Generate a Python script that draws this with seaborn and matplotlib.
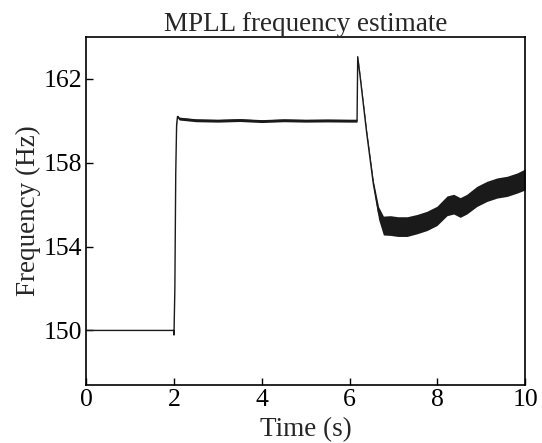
import matplotlib
matplotlib.use("Agg")
import matplotlib.pyplot as plt
import seaborn as sns
import numpy as np
import pandas as pd

# Data
time_s = [0.0, 1.99, 2.0, 2.02, 2.04, 2.06, 2.08, 2.12, 2.5, 3.0, 3.5, 4.0, 4.5,
          5.0, 5.5, 6.0, 6.17, 6.185, 6.24, 6.39, 6.54, 6.66, 6.77, 6.93, 7.1,
          7.31, 7.54, 7.76, 7.99, 8.22, 8.37, 8.52, 8.67, 8.9, 9.13, 9.36, 9.59,
          9.82, 10.0]
freq_center = [150.0, 150.0, 149.78, 152.0, 157.5, 159.8, 160.2, 160.1, 160.02,
               160.0, 160.03, 159.98, 160.02, 160.0, 160.01, 160.0, 160.0, 163.05,
               162.1, 159.4, 157.0, 155.6, 155.0, 155.0, 154.95, 154.95, 155.07,
               155.22, 155.46, 155.94, 156.02, 155.86, 156.02, 156.39, 156.63,
               156.79, 156.87, 157.03, 157.2]
band_half = [0.0, 0.0, 0.0, 0.02, 0.03, 0.05, 0.07, 0.07, 0.07, 0.07, 0.07, 0.07,
             0.07, 0.07, 0.07, 0.07, 0.07, 0.02, 0.08, 0.12, 0.15, 0.3, 0.45, 0.47,
             0.47, 0.47, 0.46, 0.46, 0.46, 0.47, 0.47, 0.47, 0.47, 0.48, 0.48,
             0.48, 0.48, 0.48, 0.5]

x_ticks = [0, 2, 4, 6, 8, 10]
y_ticks = [150, 154, 158, 162]

df = pd.DataFrame({"t": time_s, "f": freq_center})
lower = np.array(freq_center) - np.array(band_half)
upper = np.array(freq_center) + np.array(band_half)

sns.set_style("ticks")
plt.rcParams["font.family"] = ["Liberation Serif", "DejaVu Serif"]
plt.rcParams["mathtext.fontset"] = "stix"

fig = plt.figure(figsize=(5.42, 4.43), dpi=100)
ax = fig.add_axes([0.159, 0.131, 0.81, 0.786])

ax.fill_between(time_s, lower, upper, color="#1a1a1a", linewidth=0)
sns.lineplot(data=df, x="t", y="f", ax=ax, color="#1a1a1a", linewidth=1.0,
             estimator=None, sort=False)

ax.set_xlim(0, 10)
ax.set_ylim(147.4, 164.0)
ax.set_xticks(x_ticks)
ax.set_yticks(y_ticks)
ax.set_xticklabels([str(v) for v in x_ticks])
ax.set_yticklabels([str(v) for v in y_ticks])
ax.tick_params(direction="in", length=5, width=1, labelsize=18.5, colors="black",
               top=False, right=False, pad=3)
for s in ax.spines.values():
    s.set_visible(True)
    s.set_color("black")
    s.set_linewidth(1.2)

ax.set_xlabel("Time (s)", fontsize=19.5, labelpad=4)
ax.set_ylabel("Frequency (Hz)", fontsize=19.5, labelpad=2)
ax.set_title("MPLL frequency estimate", fontsize=19.5, pad=4)

fig.savefig("out.png", dpi=100)
